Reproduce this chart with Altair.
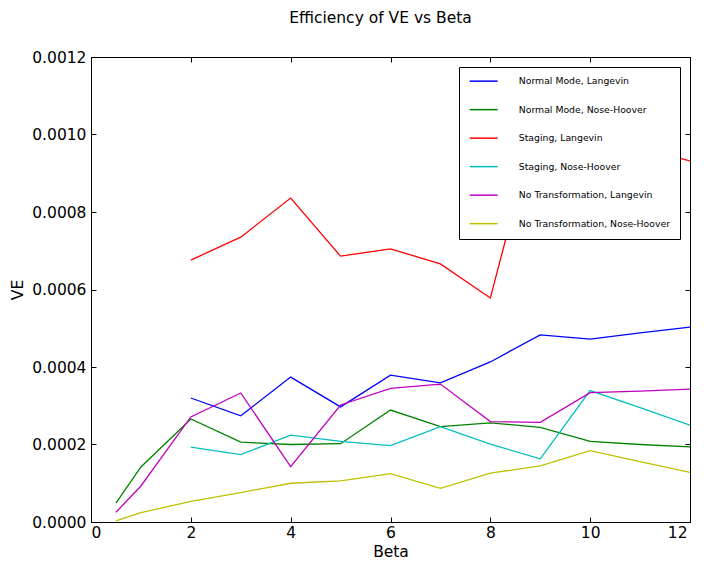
import altair as alt
import pandas as pd

# ---- data ----
series_names = [
    "Normal Mode, Langevin",
    "Normal Mode, Nose-Hoover",
    "Staging, Langevin",
    "Staging, Nose-Hoover",
    "No Transformation, Langevin",
    "No Transformation, Nose-Hoover",
]
series_colors = ["#0000ff", "#008000", "#ff0000", "#00bfbf", "#bf00bf", "#bfbf00"]

beta_from2 = [2, 3, 4, 5, 6, 7, 8, 9, 10, 11, 12]
beta_from05 = [0.5, 1, 2, 3, 4, 5, 6, 7, 8, 9, 10, 11, 12]

nm_langevin = [0.000320, 0.000274, 0.000374, 0.000297, 0.000379, 0.000359,
               0.000413, 0.000483, 0.000472, 0.000488, 0.000503]
nm_nosehoover = [0.000049, 0.000142, 0.000266, 0.000206, 0.000200, 0.000202,
                 0.000289, 0.000246, 0.000256, 0.000244, 0.000208, 0.000200, 0.000194]
st_langevin = [0.000676, 0.000735, 0.000836, 0.000686, 0.000705, 0.000666,
               0.000578, 0.001070, 0.000990, 0.000965, 0.000932]
st_nosehoover = [0.000193, 0.000174, 0.000224, 0.000208, 0.000197, 0.000246,
                 0.000201, 0.000163, 0.000339, 0.000295, 0.000250]
nt_langevin = [0.000025, 0.000093, 0.000271, 0.000333, 0.000143, 0.000302,
               0.000345, 0.000356, 0.000259, 0.000257, 0.000334, 0.000338, 0.000343]
nt_nosehoover = [0.000003, 0.000024, 0.000053, 0.000076, 0.000100, 0.000106,
                 0.000125, 0.000087, 0.000126, 0.000145, 0.000184, 0.000156, 0.000128]

x_ticks = [0, 2, 4, 6, 8, 10, 12]
y_ticks = [0.0, 0.0002, 0.0004, 0.0006, 0.0008, 0.0010, 0.0012]

series = [
    (series_names[0], beta_from2, nm_langevin),
    (series_names[1], beta_from05, nm_nosehoover),
    (series_names[2], beta_from2, st_langevin),
    (series_names[3], beta_from2, st_nosehoover),
    (series_names[4], beta_from05, nt_langevin),
    (series_names[5], beta_from05, nt_nosehoover),
]
rows = []
for order, (name, xs, ys) in enumerate(series):
    for xv, yv in zip(xs, ys):
        rows.append({"Beta": xv, "VE": yv, "series": name, "order": order})
df = pd.DataFrame(rows)

FONT = "DejaVu Sans"
DASH = [5, 3000]

xscale = alt.Scale(domain=[0, 12], nice=False, zero=False)
yscale = alt.Scale(domain=[0, 0.0012], nice=False)

common_axis = dict(
    domainColor="black", domainWidth=1,
    tickSize=0, grid=True, gridColor="black", gridWidth=1,
    gridOpacity=1, gridDash=DASH,
    labelFont=FONT, labelFontSize=15.5, labelColor="black",
)
title_axis = dict(titleFont=FONT, titleFontSize=15.5, titleFontWeight="normal",
                  titleColor="black")

lines = alt.Chart(df).mark_line(strokeWidth=1.3, clip=True).encode(
    x=alt.X("Beta:Q", scale=xscale,
            axis=alt.Axis(values=x_ticks, format="d", title="Beta",
                          titlePadding=4, labelPadding=3,
                          labelOffset={"expr": "datum.value == 12 ? -3 : 0"},
                          **common_axis, **title_axis)),
    y=alt.Y("VE:Q", scale=yscale,
            axis=alt.Axis(values=y_ticks, format=".4f", title="VE",
                          titlePadding=6, labelPadding=5,
                          **common_axis, **title_axis)),
    color=alt.Color(
        "series:N",
        scale=alt.Scale(domain=series_names, range=series_colors),
        legend=alt.Legend(
            title=None, orient="none", legendX=368, legendY=10,
            symbolType="M-1,0H7", symbolSize=49, symbolStrokeWidth=1.5,
            labelFont=FONT, labelFontSize=9.3, labelColor="black",
            labelOffset=41, rowPadding=18.5, padding=9.5,
            strokeColor="black", fillColor="white", labelLimit=400,
        ),
    ),
    detail="order:O",
)

mirror = alt.Chart(df).mark_line(opacity=0).encode(
    x=alt.X("Beta:Q", scale=xscale,
            axis=alt.Axis(orient="top", values=x_ticks, labels=False, title=None,
                          **common_axis)),
    y=alt.Y("VE:Q", scale=yscale,
            axis=alt.Axis(orient="right", values=y_ticks, labels=False, title=None,
                          **common_axis)),
)

chart = alt.layer(lines, mirror).resolve_axis(
    x="independent", y="independent"
).properties(
    width=599, height=465,
    autosize=alt.AutoSizeParams(type="none"),
    padding={"left": 83, "top": 49, "right": 6, "bottom": 42},
    title=alt.Title("Efficiency of VE vs Beta", font=FONT, fontSize=15.5,
                    fontWeight="normal", color="black", anchor="middle",
                    baseline="alphabetic", offset=12, dx=-10, frame="group"),
).configure_view(stroke="black", strokeWidth=1).configure(background="white")

chart.save("out.html", embed_options={"renderer": "svg", "actions": False})
